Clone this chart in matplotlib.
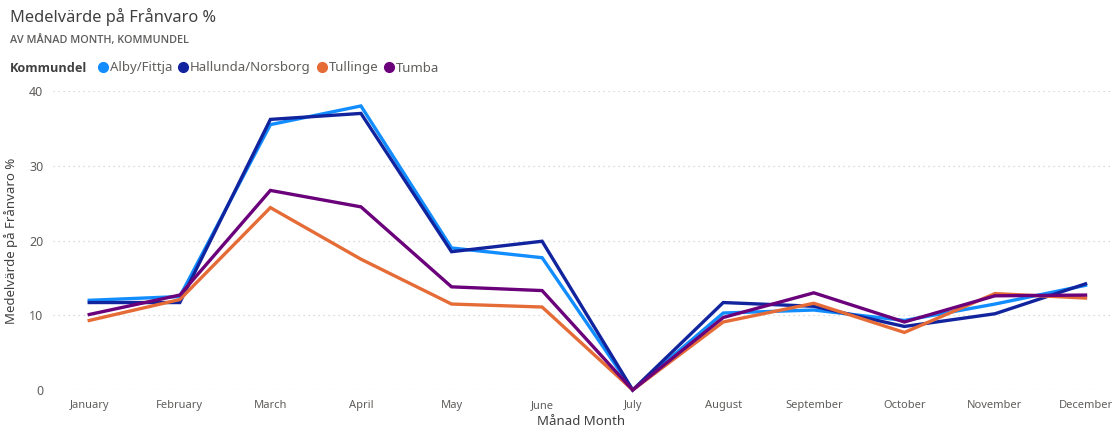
import matplotlib
matplotlib.use("Agg")
import matplotlib.pyplot as plt
from matplotlib.lines import Line2D

months = ["January", "February", "March", "April", "May", "June", "July",
          "August", "September", "October", "November", "December"]
series_names = ["Alby/Fittja", "Hallunda/Norsborg", "Tullinge", "Tumba"]
alby = [12.0, 12.5, 35.5, 38.0, 19.0, 17.7, 0.0, 10.3, 10.7, 9.3, 11.5, 14.0]
hallunda = [11.7, 11.7, 36.2, 37.0, 18.5, 19.9, 0.0, 11.7, 11.2, 8.5, 10.2, 14.2]
tullinge = [9.3, 12.1, 24.4, 17.5, 11.5, 11.1, 0.0, 9.1, 11.6, 7.7, 12.9, 12.3]
tumba = [10.1, 12.7, 26.7, 24.5, 13.8, 13.3, 0.0, 9.7, 13.0, 9.1, 12.6, 12.7]
yticks = [0, 10, 20, 30, 40]

colors = ["#118DFF", "#12239E", "#E66C37", "#6B007B"]
font = ["Noto Sans", "DejaVu Sans"]
bold_font = ["Open Sans", "DejaVu Sans"]
plt.rcParams['font.family'] = font

W, H = 1115, 428
fig = plt.figure(figsize=(W / 100, H / 100), dpi=100)
ax = fig.add_axes([53 / W, 1 - 390 / H, (1110 - 53) / W, (390 - 91) / H])

x = list(range(len(months)))
for vals, c, name in zip([alby, hallunda, tullinge, tumba], colors, series_names):
    ax.plot(x, vals, color=c, lw=2.4, label=name, clip_on=False,
            solid_joinstyle="miter", zorder=3)

ax.set_xlim(-0.4, 11.27)
ax.set_ylim(0, 40)
ax.set_yticks(yticks)
ax.set_xticks(x)
ax.set_xticklabels(months)
for s in ax.spines.values():
    s.set_visible(False)
ax.tick_params(axis="both", length=0, colors="#605E5C")
ax.tick_params(axis="x", labelsize=8, pad=7)
ax.tick_params(axis="y", labelsize=9, pad=7)
ax.grid(axis="y", color="#D0D0D0", linestyle=(0, (1, 3)), lw=0.9)
ax.set_axisbelow(True)

ax.set_ylabel("Medelvärde på Frånvaro %", fontsize=9.5, color="#404040")
ax.yaxis.set_label_coords(-0.033, 0.5)
ax.set_xlabel("Månad Month", fontsize=9.5, color="#404040", labelpad=3)

fig.text(10 / W, 1 - 17 / H, "Medelvärde på Frånvaro %", fontsize=11.8,
         color="#404040", va="center", ha="left")
fig.text(10 / W, 1 - 41 / H, "AV MÅNAD MONTH, KOMMUNDEL", fontsize=7.8,
         color="#605E5C", va="center", ha="left", fontweight="semibold",
         family=bold_font)
fig.text(10 / W, 1 - 68 / H, "Kommundel", fontsize=9.1, color="#404040",
         va="center", ha="left", fontweight="bold", family=bold_font)

handles = [Line2D([], [], marker="o", linestyle="none", markersize=7,
                  markerfacecolor=c, markeredgecolor=c) for c in colors]
fig.legend(handles, series_names, ncol=4, frameon=False, loc="center left",
           bbox_to_anchor=(99 / W, 1 - 68 / H), fontsize=9.5, labelcolor="#605E5C",
           handlelength=0.6, handletextpad=0.2, columnspacing=0.55,
           borderaxespad=0, borderpad=0)

fig.savefig("out.png", dpi=100)
